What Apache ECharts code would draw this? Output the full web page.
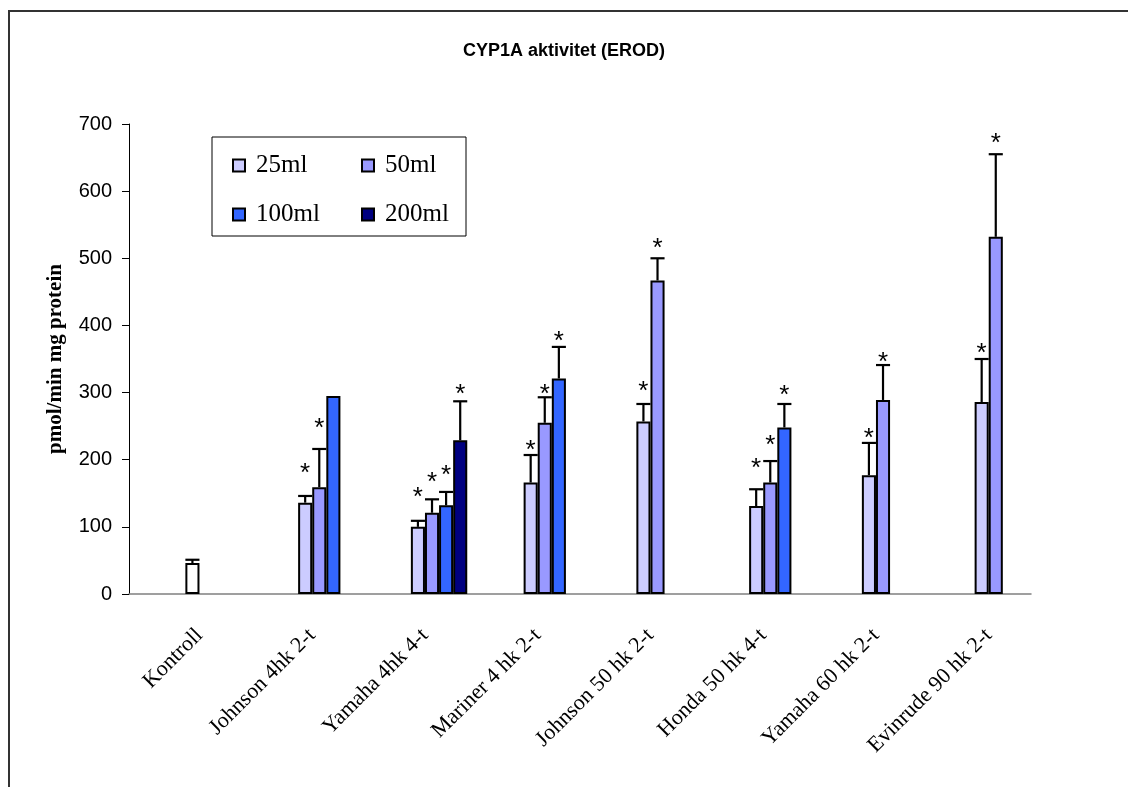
<!DOCTYPE html>
<html>
<head>
<meta charset="utf-8">
<script src="https://cdn.jsdelivr.net/npm/echarts@6/dist/echarts.min.js"></script>
<style>
  html, body { margin: 0; padding: 0; background: #fff; }
  #chart { width: 1128px; height: 787px; }
</style>
</head>
<body>
<div id="chart"></div>
<script>
// category names
const categories = ['Kontroll', 'Johnson 4hk 2-t', 'Yamaha 4hk 4-t', 'Mariner 4 hk 2-t',
  'Johnson 50 hk 2-t', 'Honda 50 hk 4-t', 'Yamaha 60 hk 2-t', 'Evinrude 90 hk 2-t'];
const seriesNames = ['25ml', '50ml', '100ml', '200ml'];

// bar heights (pmol/min mg protein)
const ml25 = [46, 136, 100, 166, 257, 131, 177, 286];
const ml50 = [null, 159, 121, 255, 467, 166, 289, 532];
const ml100 = [null, 295, 132, 321, null, 248, null, null];
const ml200 = [null, null, 229, null, null, null, null, null];

// top of the error bars
const err25 = [51, 146, 109, 207, 283, 156, 225, 350];
const err50 = [null, 216, 141, 293, 500, 198, 341, 655];
const err100 = [null, null, 152, 368, null, 283, null, null];
const err200 = [null, null, 287, null, null, null, null, null];

// where the significance stars sit (value units)
const star25 = [null, 188, 152, 222, 310, 196, 240, 366];
const star50 = [null, 255, 174, 305, 523, 229, 353, 679];
const star100 = [null, null, 185, 384, null, 304, null, null];
const star200 = [null, null, 305, null, null, null, null, null];

const yTicks = [0, 100, 200, 300, 400, 500, 600, 700];

const colors = ['#CCCCFF', '#9999FF', '#3366FF', '#000080'];
const values = [ml25, ml50, ml100, ml200];
const errs = [err25, err50, err100, err200];
const stars = [star25, star50, star100, star200];

// error bar + star items: [category, series, value, errTop, star]
let errData = [];
for (let k = 0; k < 4; k++) {
  for (let i = 0; i < categories.length; i++) {
    if (values[k][i] == null) continue;
    errData.push([i, k, values[k][i],
      errs[k][i] == null ? -1 : errs[k][i],
      stars[k][i] == null ? -1 : stars[k][i]]);
  }
}

const chart = echarts.init(document.getElementById('chart'));

// empty slots so the groups start at the category centre, like the original
let series = [];
for (let p = 0; p < 4; p++) {
  series.push({
    type: 'bar', name: 'pad' + p, data: categories.map(() => null),
    barWidth: '12.5%', barGap: '0%', silent: true
  });
}
for (let k = 0; k < 4; k++) {
  series.push({
    type: 'bar',
    name: seriesNames[k],
    barWidth: '12.5%',
    barGap: '0%',
    itemStyle: { color: colors[k], borderColor: '#000', borderWidth: 2 },
    data: values[k].map((v, i) => (k === 0 && i === 0) ? { value: v, itemStyle: { color: '#FFFFFF' } } : v)
  });
}
series.push({
  type: 'custom',
  name: 'err',
  data: errData,
  encode: { x: 0, y: 2 },
  z: 5,
  renderItem: function (params, api) {
    const cat = api.value(0), k = api.value(1), v = api.value(2), e = api.value(3), s = api.value(4);
    const bw = api.size([1, 0])[0] / 8;
    const cx = api.coord([cat, 0])[0] + bw * k + bw / 2;
    const yv = api.coord([cat, v])[1];
    const kids = [];
    if (e > 0) {
      const ye = api.coord([cat, e])[1];
      kids.push({ type: 'line', shape: { x1: cx, y1: yv, x2: cx, y2: ye }, style: { stroke: '#000', lineWidth: 2.2 } });
      kids.push({ type: 'line', shape: { x1: cx - bw / 2, y1: ye, x2: cx + bw / 2, y2: ye }, style: { stroke: '#000', lineWidth: 2.2 } });
    }
    if (s > 0) {
      const ys = api.coord([cat, s])[1];
      kids.push({ type: 'text', style: { text: '*', x: cx, y: ys + 6, align: 'center', verticalAlign: 'middle',
        fontSize: 26, fontFamily: 'Liberation Sans', fill: '#000' } });
    }
    return { type: 'group', children: kids };
  }
});

chart.setOption({
  animation: false,
  backgroundColor: '#fff',
  title: {
    text: 'CYP1A aktivitet (EROD)',
    left: 'center',
    top: 37,
    textStyle: { fontFamily: 'Liberation Sans', fontWeight: 'bold', fontSize: 18, color: '#000' }
  },
  legend: {
    data: seriesNames,
    left: 212,
    top: 137,
    width: 260,
    orient: 'horizontal',
    icon: 'rect',
    itemWidth: 12,
    itemHeight: 12,
    itemGap: 24,
    padding: [16, 0, 9, 20],
    borderColor: '#000',
    borderWidth: 1,
    textStyle: { fontFamily: 'Liberation Serif', fontSize: 25, color: '#000', width: 81, lineHeight: 25, padding: [0, 0, 0, 6] }
  },
  grid: { left: 129, right: 97, top: 124, bottom: 193 },
  xAxis: {
    type: 'category',
    data: categories,
    axisLine: { lineStyle: { color: '#808080', width: 1.5 } },
    axisTick: { show: false },
    axisLabel: {
      interval: 0, rotate: 45, margin: 24,
      verticalAlign: 'top', padding: [9, 0, 0, 0], lineHeight: 22,
      fontFamily: 'Liberation Serif', fontSize: 22, color: '#000'
    }
  },
  yAxis: {
    type: 'value',
    min: yTicks[0],
    max: yTicks[yTicks.length - 1],
    interval: 100,
    name: 'pmol/min mg protein',
    nameLocation: 'middle',
    nameGap: 63,
    nameTextStyle: { fontFamily: 'Liberation Serif', fontWeight: 'bold', fontSize: 21, color: '#000' },
    axisLine: { show: true, lineStyle: { color: '#000', width: 1 } },
    axisTick: { show: true, length: 7, lineStyle: { color: '#000' } },
    axisLabel: { margin: 17, fontFamily: 'Liberation Sans', fontSize: 20, color: '#000' },
    splitLine: { show: false }
  },
  graphic: [{
    type: 'rect', silent: true, z: -1,
    shape: { x: 9, y: 11, width: 1300, height: 900 },
    style: { fill: 'none', stroke: '#333', lineWidth: 2 }
  }],
  series: series
});

window.addEventListener('resize', () => chart.resize());
</script>
</body>
</html>
